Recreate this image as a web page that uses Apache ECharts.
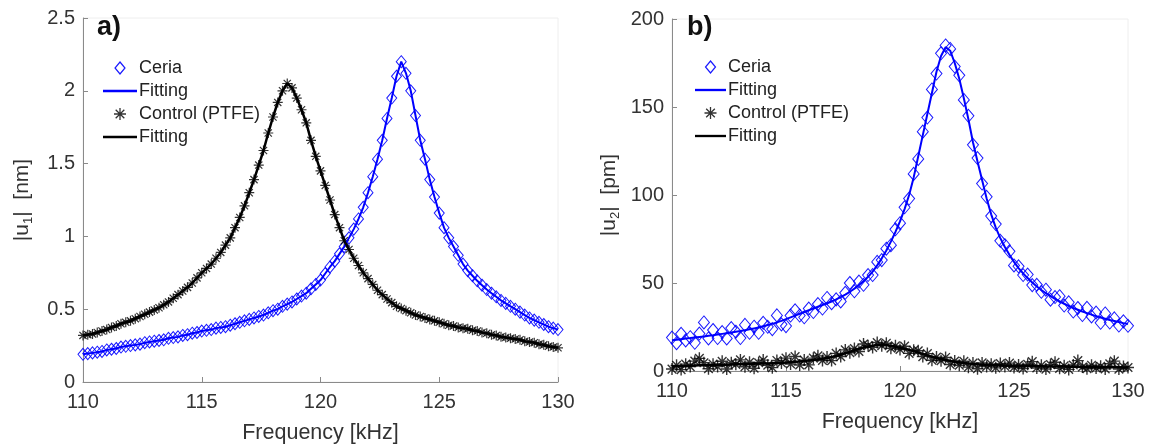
<!DOCTYPE html>
<html>
<head>
<meta charset="utf-8">
<script src="https://cdn.jsdelivr.net/npm/echarts@6/dist/echarts.min.js"></script>
<style>
html,body{margin:0;padding:0;background:#fff;}
#chart{width:1151px;height:444px;}
</style>
</head>
<body>
<div id="chart"></div>
<script>
// Frequency grid [kHz]
const freq = [
110,110.2,110.4,110.6,110.8,111,111.2,111.4,111.6,111.8,
112,112.2,112.4,112.6,112.8,113,113.2,113.4,113.6,113.8,
114,114.2,114.4,114.6,114.8,115,115.2,115.4,115.6,115.8,
116,116.2,116.4,116.6,116.8,117,117.2,117.4,117.6,117.8,
118,118.2,118.4,118.6,118.8,119,119.2,119.4,119.6,119.8,
120,120.2,120.4,120.6,120.8,121,121.2,121.4,121.6,121.8,
122,122.2,122.4,122.6,122.8,123,123.2,123.4,123.6,123.8,
124,124.2,124.4,124.6,124.8,125,125.2,125.4,125.6,125.8,
126,126.2,126.4,126.6,126.8,127,127.2,127.4,127.6,127.8,
128,128.2,128.4,128.6,128.8,129,129.2,129.4,129.6,129.8,
130];

// Panel a: |u1| [nm]
const ceriaA = [
0.19,0.195,0.20,0.205,0.21,0.22,0.225,0.23,0.24,0.245,
0.25,0.255,0.26,0.27,0.275,0.28,0.285,0.29,0.30,0.305,
0.31,0.32,0.325,0.335,0.34,0.35,0.355,0.36,0.37,0.375,
0.38,0.39,0.40,0.41,0.42,0.43,0.44,0.45,0.46,0.475,
0.49,0.50,0.52,0.535,0.55,0.57,0.59,0.61,0.64,0.67,
0.70,0.745,0.79,0.83,0.88,0.93,0.99,1.05,1.12,1.20,
1.30,1.41,1.53,1.66,1.81,1.95,2.10,2.20,2.12,2.00,
1.83,1.66,1.53,1.39,1.27,1.16,1.06,0.99,0.93,0.87,
0.81,0.765,0.73,0.695,0.665,0.635,0.61,0.585,0.56,0.54,
0.52,0.50,0.48,0.46,0.44,0.425,0.41,0.395,0.38,0.37,
0.36];
const ptfeA = [
0.32,0.325,0.33,0.34,0.35,0.36,0.375,0.385,0.40,0.41,
0.42,0.435,0.45,0.465,0.48,0.495,0.51,0.53,0.55,0.575,
0.60,0.625,0.65,0.68,0.715,0.75,0.78,0.81,0.85,0.89,
0.94,0.99,1.06,1.13,1.21,1.30,1.39,1.49,1.59,1.71,
1.82,1.92,2.00,2.05,2.02,1.95,1.87,1.78,1.66,1.55,
1.45,1.35,1.25,1.15,1.06,0.97,0.91,0.85,0.80,0.75,
0.71,0.67,0.63,0.60,0.57,0.545,0.52,0.505,0.49,0.475,
0.46,0.45,0.44,0.43,0.42,0.41,0.40,0.39,0.385,0.375,
0.37,0.365,0.355,0.35,0.34,0.335,0.325,0.32,0.31,0.305,
0.30,0.295,0.29,0.28,0.275,0.27,0.26,0.255,0.245,0.24,
0.235];
// In panel a the fits coincide with the data within the line width
const fitCeriaA = ceriaA;
const fitPtfeA = ptfeA;

// Panel b: |u2| [pm]
const ceriaB = [
19.0,15.8,21.1,17.4,19.2,16.0,21.3,27.6,18.5,23.3,
18.7,22.1,18.5,24.4,22.3,18.7,26.2,21.7,25.2,21.7,
27.4,25.1,23.8,31.6,26.5,25.5,31.5,34.5,31.5,30.5,
35.5,33.5,38.0,35.5,41.5,38.5,40.7,39.5,44.4,50.0,
45.3,50.8,49.0,54.5,54.5,62.0,63.0,69.5,71.5,80.5,
84.0,93.0,98.0,112.0,120.5,136.0,144.0,160.0,169.0,180.5,
185.0,183.0,173.0,168.0,154.0,145.0,128.5,121.0,106.5,99.0,
88.0,83.5,74.0,71.5,68.0,60.0,59.5,54.5,54.8,48.8,
49.0,45.0,46.2,40.5,42.0,42.5,37.2,39.0,33.8,35.8,
31.8,35.9,31.0,33.2,27.4,32.7,27.5,29.9,25.8,28.2,
25.7];
const fitCeriaB = [
17.5,17.8,18.1,18.4,18.7,19.0,19.3,19.6,20.0,20.3,
20.7,21.1,21.5,21.9,22.3,22.7,23.2,23.7,24.2,24.7,
25.4,26.1,26.8,27.6,28.5,29.5,30.5,31.5,32.5,33.5,
34.5,35.5,36.5,37.5,38.5,39.5,40.7,42.0,43.4,45.0,
46.8,48.8,51.0,53.5,56.5,60.0,64.0,68.5,73.5,79.0,
85.0,92.0,100.0,110.0,122.0,134.0,146.0,158.0,170.0,179.0,
184.0,182.0,175.0,166.0,155.0,143.0,130.0,119.0,108.5,98.0,
89.0,81.5,75.5,70.5,66.0,62.0,58.5,55.5,52.8,50.3,
48.0,46.0,44.2,42.5,41.0,39.5,38.2,37.0,35.8,34.8,
33.8,32.9,32.0,31.2,30.4,29.7,29.0,28.4,27.8,27.2,
26.7];
const ptfeB = [
1.1,3.2,0.8,3.9,2.5,5.6,7.2,4.7,1.3,3.9,
2.5,5.5,1.1,4.7,3.8,6.3,2.4,5.0,1.6,4.7,
6.2,3.3,1.9,6.0,4.6,7.3,4.0,8.2,3.4,6.2,
3.5,7.3,8.6,6.0,7.9,5.9,10.0,8.2,12.0,10.4,
12.8,11.1,15.3,14.4,13.4,16.2,14.4,15.8,12.9,14.3,
12.2,14.1,10.0,11.8,11.5,8.2,9.9,6.1,7.9,5.8,
7.7,3.7,5.7,3.3,5.5,2.2,4.5,1.3,4.6,2.5,
3.9,1.8,4.2,2.6,4.5,2.0,3.4,1.4,3.8,5.3,
1.7,3.2,1.1,3.6,5.0,1.5,3.0,0.9,3.4,5.9,
2.3,1.3,3.3,1.7,2.7,1.2,4.1,5.6,1.1,2.5,
2.0];
const fitPtfeB = [
2.6,2.7,2.8,2.9,3.0,3.1,3.2,3.2,3.3,3.4,
3.5,3.5,3.6,3.7,3.8,3.8,3.9,4.0,4.1,4.2,
4.2,4.3,4.4,4.5,4.6,4.8,5.0,5.2,5.4,5.7,
6.0,6.3,6.6,7.0,7.4,7.9,8.5,9.2,10.0,10.9,
11.8,12.6,13.3,13.9,14.4,14.7,14.9,14.8,14.4,13.8,
13.2,12.6,12.0,11.3,10.5,9.7,8.9,8.1,7.4,6.8,
6.2,5.7,5.2,4.8,4.5,4.2,4.0,3.8,3.6,3.5,
3.4,3.3,3.2,3.1,3.0,3.0,2.9,2.9,2.8,2.8,
2.7,2.7,2.6,2.6,2.5,2.5,2.5,2.4,2.4,2.4,
2.3,2.3,2.3,2.2,2.2,2.2,2.1,2.1,2.1,2.0,
2.0];

const xTicks = {min: 110, max: 130, interval: 5};
const yTicksA = {min: 0, max: 2.5, interval: 0.5};
const yTicksB = {min: 0, max: 200, interval: 50};
const panelLabels = ['a)', 'b)'];
const xTitle = 'Frequency [kHz]';
const yTitleA = '|u{s|1}|  [nm]';
const yTitleB = '|u{s|2}|  [pm]';
const legendNames = ['Ceria', 'Fitting', 'Control (PTFE)', 'Fitting (PTFE)'];

const pairs = (ys) => freq.map((f, i) => [f, ys[i]]);
const FONT = '"Liberation Sans", Arial, sans-serif';
const TXT = '#333333';
const AX = '#8a8a8a';
const BLUE = '#0000ff';
const STAR = 'path://M0,-5L0,5M-5,0L5,0M-3.6,-3.6L3.6,3.6M-3.6,3.6L3.6,-3.6';
const DIAMOND = 'path://M0,-6L5,0L0,6L-5,0Z';
const LINE_ICON = 'path://M0,0L32,0L32,2.4L0,2.4Z';

function xAxis(gi) {
  return {
    type: 'value', gridIndex: gi, min: xTicks.min, max: xTicks.max, interval: xTicks.interval,
    name: xTitle, nameLocation: 'middle', nameGap: 40,
    nameTextStyle: {fontFamily: FONT, fontSize: 21.5, color: TXT},
    axisLine: {show: true, lineStyle: {color: AX, width: 1}},
    axisTick: {show: true, inside: true, length: 5, lineStyle: {color: AX}},
    axisLabel: {fontFamily: FONT, fontSize: 20, color: TXT, margin: 10},
    splitLine: {show: false}
  };
}
function yAxis(gi, t, title, gap) {
  return {
    type: 'value', gridIndex: gi, min: t.min, max: t.max, interval: t.interval,
    name: title, nameLocation: 'middle', nameGap: gap, nameRotate: 90,
    nameTextStyle: {fontFamily: FONT, fontSize: 21, color: TXT,
      rich: {s: {fontFamily: FONT, fontSize: 13, color: TXT, padding: [12, 0, 0, 0]}}},
    axisLine: {show: true, lineStyle: {color: AX, width: 1}},
    axisTick: {show: true, inside: true, length: 5, lineStyle: {color: AX}},
    axisLabel: {fontFamily: FONT, fontSize: 20, color: TXT, margin: 8},
    splitLine: {show: false}
  };
}
function panelSeries(gi, dC, fC, dP, fP, dSize, sSize, sWidth) {
  return [
    {name: legendNames[0], type: 'scatter', xAxisIndex: gi, yAxisIndex: gi, data: pairs(dC),
     symbol: 'diamond', symbolSize: dSize,
     itemStyle: {color: 'rgba(0,0,0,0)', borderColor: BLUE, borderWidth: 1, opacity: 0.9}},
    {name: legendNames[1], type: 'line', xAxisIndex: gi, yAxisIndex: gi, data: pairs(fC),
     symbol: 'none', lineStyle: {color: BLUE, width: 2}, itemStyle: {color: BLUE}},
    {name: legendNames[2], type: 'scatter', xAxisIndex: gi, yAxisIndex: gi, data: pairs(dP),
     symbol: STAR, symbolSize: sSize,
     itemStyle: {color: 'rgba(0,0,0,0)', borderColor: '#000', borderWidth: sWidth}},
    {name: legendNames[3], type: 'line', xAxisIndex: gi, yAxisIndex: gi, data: pairs(fP),
     symbol: 'none', lineStyle: {color: '#000', width: 2.5}, itemStyle: {color: '#000'}}
  ];
}
function legend(left, top, lineW) {
  return {
    orient: 'vertical', left: left, top: top, itemWidth: lineW, itemHeight: 12, itemGap: 3,
    padding: 0, selectedMode: false, symbolKeepAspect: true,
    data: [
      {name: legendNames[0], icon: DIAMOND, itemStyle: {color: 'rgba(0,0,0,0)', borderColor: BLUE, borderWidth: 1.2}},
      {name: legendNames[1], icon: LINE_ICON, itemStyle: {color: BLUE, borderWidth: 0}},
      {name: legendNames[2], icon: STAR, itemStyle: {color: 'rgba(0,0,0,0)', borderColor: '#000', borderWidth: 1.3}},
      {name: legendNames[3], icon: LINE_ICON, itemStyle: {color: '#000', borderWidth: 0}}
    ],
    formatter: (n) => n.indexOf('Fitting') === 0 ? 'Fitting' : n,
    textStyle: {fontFamily: FONT, fontSize: 18, color: '#222', lineHeight: 20, padding: [0, 0, 0, -3]}
  };
}

const chart = echarts.init(document.getElementById('chart'), null, {renderer: 'canvas'});
chart.setOption({
  animation: false,
  backgroundColor: '#ffffff',
  title: [
    {text: panelLabels[0], left: 97, top: 14, padding: 0, textStyle: {fontFamily: FONT, fontSize: 27, fontWeight: 'bold', color: '#111'}},
    {text: panelLabels[1], left: 687, top: 14, padding: 0, textStyle: {fontFamily: FONT, fontSize: 27, fontWeight: 'bold', color: '#111'}}
  ],
  grid: [
    {left: 83, top: 18, width: 475, height: 364, show: true, borderColor: '#eeeeee', borderWidth: 1, outerBoundsMode: 'none'},
    {left: 672, top: 19, width: 456, height: 352, show: true, borderColor: '#eeeeee', borderWidth: 1, outerBoundsMode: 'none'}
  ],
  legend: [legend(103, 58, 34), legend(695, 57, 31)],
  xAxis: [xAxis(0), xAxis(1)],
  yAxis: [yAxis(0, yTicksA, yTitleA, 48), yAxis(1, yTicksB, yTitleB, 50)],
  series: [].concat(
    panelSeries(0, ceriaA, fitCeriaA, ptfeA, fitPtfeA, [10, 12], 10, 1.2),
    panelSeries(1, ceriaB, fitCeriaB, ptfeB, fitPtfeB, [11, 13], 12, 1.4)
  )
});
</script>
</body>
</html>
